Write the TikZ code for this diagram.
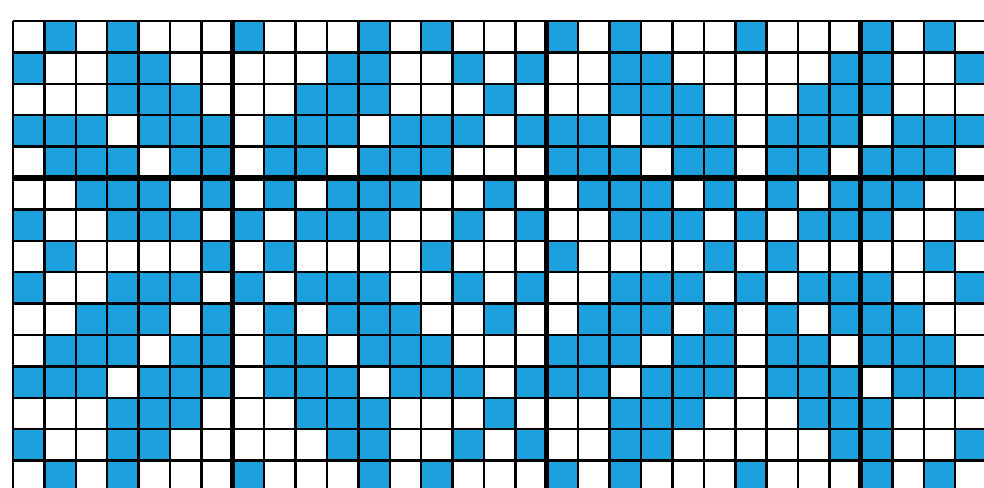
\documentclass[tikz,border=0pt]{standalone}
\definecolor{cellblue}{RGB}{28,160,222}
\begin{document}
\begin{tikzpicture}[x=0.5cm,y=-0.5cm,
  cell/.style={fill=cellblue},
  gridline/.style={draw=black,line width=1.1pt},
  blockline/.style={draw=black,line width=2.3pt}]
\useasboundingbox (-0.414,-0.669) rectangle (30.92,14.87);
\clip (-0.414,-0.669) rectangle (30.92,14.87);
% blue cells, motif repeats every 16 columns
\foreach \r/\cols in {0/{1,3,7,11,13},1/{0,3,4,10,11,14},2/{3,4,5,9,10,11,15},
    3/{0,1,2,4,5,6,8,9,10,12,13,14},4/{1,2,3,5,6,8,9,11,12,13},5/{2,3,4,6,8,10,11,12,15},
    6/{0,3,4,5,7,9,10,11,14},7/{1,6,8,13},8/{0,3,4,5,7,9,10,11,14},
    9/{2,3,4,6,8,10,11,12,15},10/{1,2,3,5,6,8,9,11,12,13},11/{0,1,2,4,5,6,8,9,10,12,13,14},
    12/{3,4,5,9,10,11,15},13/{0,3,4,10,11,14},14/{1,3,7,11,13}}
  \foreach \k in {0,16}
    \foreach \c in \cols
      \fill[cell] (\c+\k,\r) rectangle ++(1,1);
% grid
\foreach \x in {0,...,31} \draw[gridline] (\x,0) -- (\x,15);
\foreach \y in {0,...,15} \draw[gridline] (0,\y) -- (31,\y);
\foreach \x in {7,17,27} \draw[blockline] (\x,0) -- (\x,15);
\draw[blockline] (0,5) -- (31,5);
\end{tikzpicture}
\end{document}
